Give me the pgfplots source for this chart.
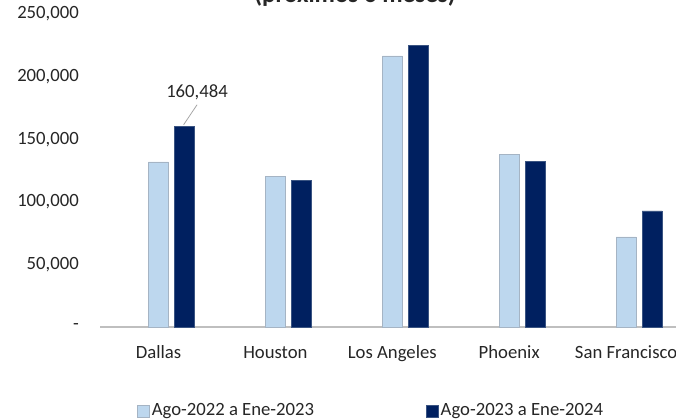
\documentclass[border=0pt]{standalone}
\usepackage{fontspec}
\setmainfont{Carlito}
\usepackage{pgfplots}
\pgfplotsset{compat=1.18}

\definecolor{lightbar}{HTML}{BDD7EE}
\definecolor{lightedge}{HTML}{A5B4C4}
\definecolor{darkbar}{HTML}{002060}
\definecolor{darkedge}{HTML}{3A5482}
\definecolor{axisgray}{HTML}{BFBFBF}
\definecolor{txt}{HTML}{262626}

\begin{document}
\fontsize{18.7pt}{22pt}\selectfont
\begin{tikzpicture}[x=1pt, y=1pt]
\useasboundingbox (0,0) rectangle (676,419);
\clip (0,0) rectangle (676,419);

% title, cut off by the crop
\node[anchor=base, font=\fontsize{25pt}{30pt}\selectfont\bfseries, text=txt] at (355,416) {(próximos 6 meses)};

\begin{axis}[
	at={(100pt,92pt)}, anchor=south west,
	scale only axis,
	width=576pt, height=313pt,
	xmin=-0.5, xmax=4.427,
	ymin=0, ymax=250000,
	ybar, bar width=20pt,
	axis lines*=left,
	separate axis lines,
	x axis line style={draw=axisgray, line width=1.6pt},
	y axis line style={draw=none},
	major tick length=0pt,
	xtick={0,1,2,3,4},
	xticklabels={Dallas, Houston, Los Angeles, Phoenix, San Francisco},
	xticklabel style={anchor=base, inner sep=0pt, yshift=-32pt, text=txt},
	scaled y ticks=false,
	ytick={0,50000,100000,150000,200000,250000},
	yticklabels={{-\hspace{9pt}}, {50,000}, {100,000}, {150,000}, {200,000}, {250,000}},
	yticklabel style={anchor=east, inner sep=0pt, xshift=-21pt, text=txt},
	clip=false,
	legend columns=2,
	legend style={at={(0.0642,-0.2684)}, anchor=west, draw=none, fill=none,
		inner sep=0pt, text=txt,
		/tikz/every even column/.append style={column sep=110pt},
		nodes={inner sep=2pt}},
	legend image code/.code={\draw[#1, bar shift=0pt] (0pt,-6pt) rectangle (12pt,6pt);},
]
\addplot[fill=lightbar, draw=lightedge, line width=0.6pt, bar shift=0pt]
coordinates {(0,131800) (1,120600) (2,216500) (3,138000) (4,72000)};
\addlegendentry{Ago-2022 a Ene-2023}

\addplot[fill=darkbar, draw=darkedge, line width=0.6pt, bar shift=26pt]
coordinates {(0,160484) (1,117400) (2,225000) (3,132000) (4,92700)};
\addlegendentry{Ago-2023 a Ene-2024}

\draw[gray!70, line width=0.8pt] (axis cs:0.215,161500) -- (axis cs:0.33,177500);
\node[anchor=base, inner sep=0pt, text=txt] at (axis cs:0.33,183200) {160,484};
\end{axis}
\end{tikzpicture}
\end{document}
